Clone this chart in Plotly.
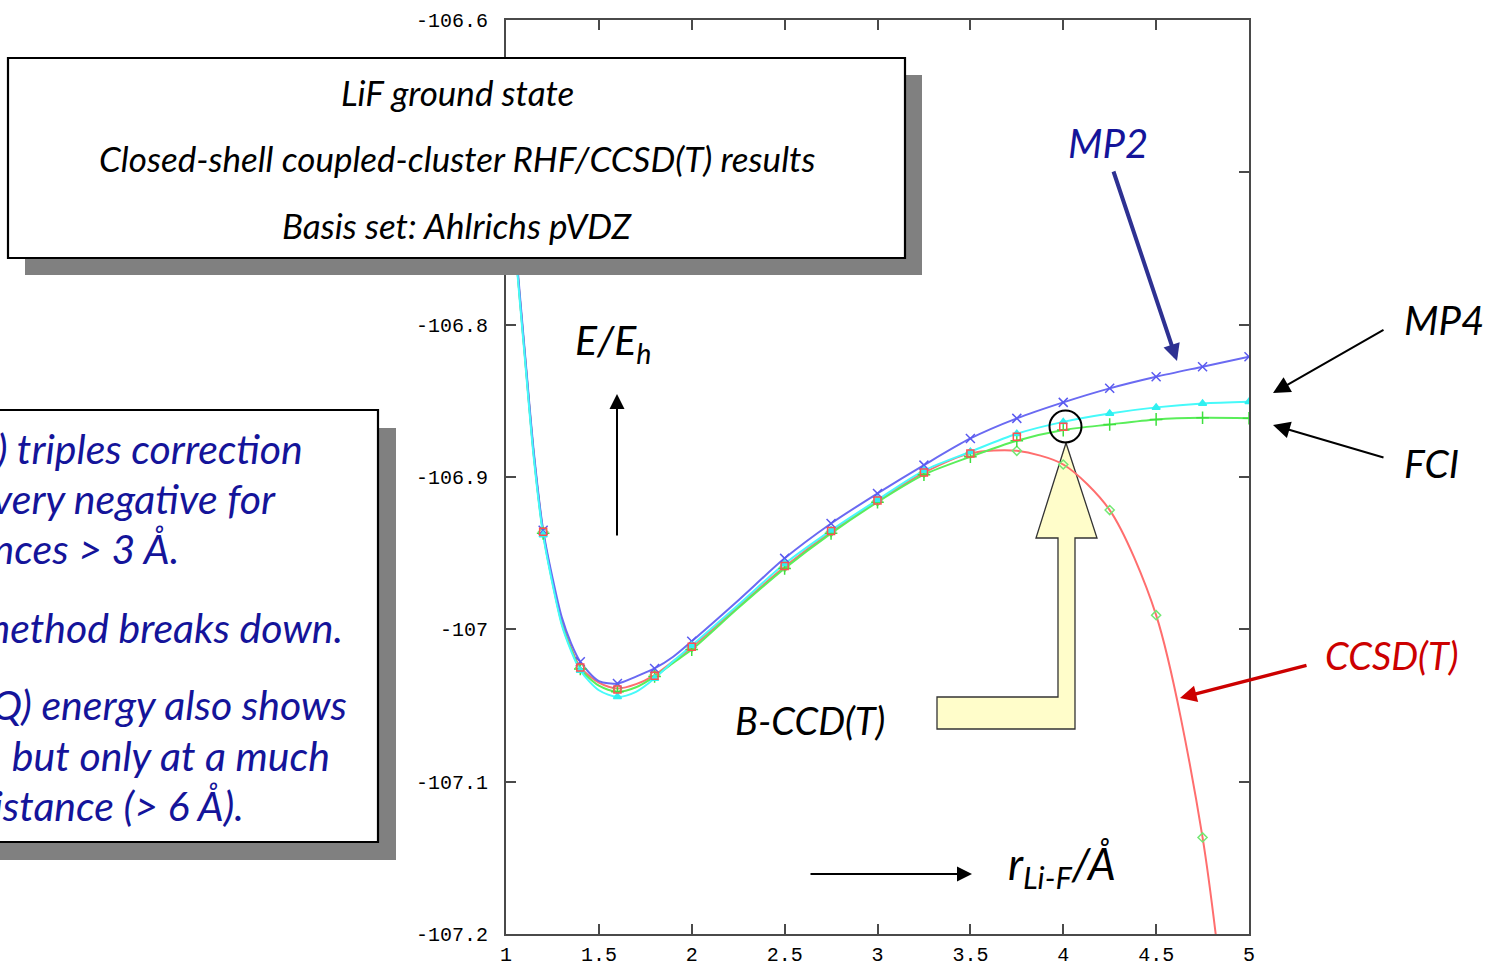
import plotly.graph_objects as go

# ---------------- data ----------------
R = [1.0, 1.05, 1.1, 1.15, 1.2, 1.25, 1.3, 1.35, 1.4, 1.5, 1.6, 1.7, 1.8, 1.9,
     2.0, 2.25, 2.5, 2.75, 3.0, 3.25, 3.5, 3.75, 4.0, 4.25, 4.5, 4.75, 5.0]
R_MARK = [1.2, 1.4, 1.6, 1.8, 2.0, 2.5, 2.75, 3.0, 3.25, 3.5, 3.75, 4.0, 4.25, 4.5, 4.75, 5.0]

MP2 = [-106.665, -106.745, -106.816, -106.884, -106.9349, -106.966, -106.992, -107.009,
       -107.0213, -107.034, -107.0355, -107.031, -107.0257, -107.018, -107.0078, -106.981,
       -106.9534, -106.9305, -106.9108, -106.8922, -106.8747, -106.8615, -106.851,
       -106.8418, -106.8342, -106.8276, -106.8211]
MP4 = [-106.670, -106.750, -106.820, -106.888, -106.938, -106.970, -106.997, -107.014,
       -107.027, -107.040, -107.0443, -107.041, -107.0322, -107.021, -107.0106, -106.984,
       -106.957, -106.935, -106.915, -106.8958, -106.8834, -106.8716, -106.8638,
       -106.8583, -106.8543, -106.8517, -106.8506]
FCI = [-106.668, -106.748, -106.818, -106.886, -106.937, -106.969, -106.996, -107.013,
       -107.026, -107.037, -107.041, -107.038, -107.031, -107.022, -107.0133, -106.986,
       -106.960, -106.937, -106.9165, -106.8985, -106.8867, -106.8762, -106.8692,
       -106.8655, -106.8622, -106.8611, -106.8614]
CCSDT = [-106.668, -106.748, -106.818, -106.886, -106.936, -106.968, -106.995, -107.012,
         -107.025, -107.035, -107.0388, -107.036, -107.030, -107.021, -107.0117, -106.985,
         -106.959, -106.936, -106.9158, -106.8972, -106.8845, -106.8828, -106.8918,
         -106.9217, -106.9907, -107.1366, -107.40]
R_BCCD = [1.2, 1.4, 1.6, 1.8, 2.0, 2.5, 2.75, 3.0, 3.25, 3.5, 3.75, 4.0]
BCCDT = [-106.936, -107.025, -107.0395, -107.0305, -107.0115, -106.9585, -106.9355,
         -106.9155, -106.897, -106.8845, -106.8736, -106.867]

X_TICKS = [1, 1.5, 2, 2.5, 3, 3.5, 4, 4.5, 5]
X_TICKTEXT = ["1", "1.5", "2", "2.5", "3", "3.5", "4", "4.5", "5"]
Y_TICKS = [-106.6, -106.7, -106.8, -106.9, -107.0, -107.1, -107.2]
Y_TICKTEXT = ["-106.6", "-106.7", "-106.8", "-106.9", "-107", "-107.1", "-107.2"]

# ---------------- layout geometry (pixels) ----------------
W, H = 1486, 966
L, RGT, T, B = 506, 1249, 20, 934


def PX(x):
    return (x - L) / (RGT - L)


def PY(y):
    return (B - y) / (B - T)


def at_marks(vals):
    d = dict(zip(R, vals))
    return [d[r] for r in R_MARK]


fig = go.Figure()

series = [
    ("CCSD(T)", CCSDT, "#ff6e6e", "#74e874", "diamond-open", 7),
    ("FCI", FCI, "#5aee5a", "#3ee03e", "cross-thin-open", 9),
    ("MP2", MP2, "#6a6af2", "#5a5af0", "x-thin-open", 9),
    ("MP4", MP4, "#46fafa", "#30f0f0", "triangle-up", 7),
]
for name, vals, lc, mc, sym, ms in series:
    fig.add_trace(go.Scatter(x=R, y=vals, mode="lines", name=name,
                             line=dict(color=lc, width=2, shape="spline", smoothing=0.8),
                             showlegend=False, hoverinfo="skip"))
for name, vals, lc, mc, sym, ms in series:
    fig.add_trace(go.Scatter(x=R_MARK, y=at_marks(vals), mode="markers", name=name,
                             marker=dict(symbol=sym, size=ms, color=mc,
                                         line=dict(color=mc, width=1.5)),
                             showlegend=False, cliponaxis=True))
fig.add_trace(go.Scatter(x=R_BCCD, y=BCCDT, mode="markers", name="B-CCD(T)",
                         marker=dict(symbol="square-open", size=7, color="#ff5050",
                                     line=dict(color="#ff5050", width=1.5)),
                         showlegend=False))

axis_common = dict(showgrid=False, zeroline=False, showline=True, linecolor="#4a4a4a",
                   linewidth=2, mirror="ticks", ticks="inside", ticklen=10,
                   tickwidth=2, tickcolor="#4a4a4a", automargin=False,
                   tickfont=dict(family="Liberation Mono", size=20, color="#000"))
fig.update_xaxes(range=[1, 5], tickvals=X_TICKS, ticktext=X_TICKTEXT,
                 ticklabelstandoff=1, **axis_common)
fig.update_yaxes(range=[-107.2, -106.6], tickvals=Y_TICKS, ticktext=Y_TICKTEXT,
                 ticklabelstandoff=12, **axis_common)

shapes = []
# yellow block arrow (below traces)
pts = [(937, 697), (1058, 697), (1058, 538), (1036, 538), (1066, 443), (1097, 538),
       (1075, 538), (1075, 729), (937, 729)]
path = "M " + " L ".join(f"{PX(x):.5f},{PY(y):.5f}" for x, y in pts) + " Z"
shapes.append(dict(type="path", path=path, xref="paper", yref="paper", layer="below",
                   fillcolor="#fffdca", line=dict(color="#333", width=1.3)))
# circle
shapes.append(dict(type="circle", xref="paper", yref="paper", layer="above",
                   x0=PX(1049.5), x1=PX(1081.5), y0=PY(442.5), y1=PY(410.5),
                   line=dict(color="black", width=2)))
# text boxes with shadows
for (x0, y0, x1, y1), off in [((8, 58, 905, 258), 17), ((-30, 410, 378, 842), 18)]:
    shapes.append(dict(type="rect", xref="paper", yref="paper", layer="above",
                       x0=PX(x0 + off), x1=PX(x1 + off), y0=PY(y1 + off), y1=PY(y0 + off),
                       fillcolor="#808080", line=dict(width=0)))
    shapes.append(dict(type="rect", xref="paper", yref="paper", layer="above",
                       x0=PX(x0), x1=PX(x1), y0=PY(y1), y1=PY(y0),
                       fillcolor="white", line=dict(color="black", width=2.2)))

FONT = "Lato, Open Sans, sans-serif"
ann = []


def text(s, x, y, size, color="black", xanchor="center"):
    ann.append(dict(text=s, x=PX(x), y=PY(y), xref="paper", yref="paper",
                    xanchor=xanchor, yanchor="middle", showarrow=False,
                    font=dict(family=FONT, size=size, color=color, style="italic")))


def arrow(tip, tail, color="black", width=2, size=1.5):
    ann.append(dict(text="", x=PX(tip[0]), y=PY(tip[1]), xref="paper", yref="paper",
                    ax=tail[0] - tip[0], ay=tail[1] - tip[1], showarrow=True,
                    arrowhead=2, arrowsize=size, arrowwidth=width, arrowcolor=color,
                    standoff=0))


text("LiF ground state", 457, 92, 35)
text("Closed-shell coupled-cluster RHF/CCSD(T) results", 457, 158, 35)
text("Basis set: Ahlrichs pVDZ", 457, 225, 35)

BLUE_TXT = "#14149a"
left_lines = [
    ("The (T) triples correction", 305, 448),
    ("becomes very negative for", 278, 498),
    ("distances > 3 Å.", 181, 549),
    ("The method breaks down.", 345, 627),
    ("The CCSD(TQ) energy also shows", 349, 704),
    ("this, but only at a much", 332, 755),
    ("larger distance (> 6 Å).", 246, 805),
]
for s, xr, y in left_lines:
    text(s, xr, y, 41, BLUE_TXT, xanchor="right")

text("MP2", 1108, 143, 40, BLUE_TXT)
text("MP4", 1444, 320, 40)
text("FCI", 1431, 463, 39)
text("CCSD(T)", 1392, 655, 38, "#cc0000")
text("B-CCD(T)", 810, 720, 38)
text("E/E<sub>h</sub>", 613, 342, 41)
text("r<sub>Li-F</sub>/Å", 1062, 866, 44)

arrow((617, 394), (617, 537), size=1.5)
arrow((972, 874), (809, 874), size=1.5)
arrow((1177, 361), (1113, 170), color="#2e3192", width=4, size=0.85)
arrow((1273, 393), (1385, 329), size=1.7)
arrow((1273, 425), (1385, 458), size=1.7)
arrow((1180, 698), (1308, 665), color="#cc0000", width=3.5, size=0.95)

fig.update_layout(width=W, height=H, margin=dict(l=L, r=W - RGT, t=T, b=H - B, pad=0),
                  paper_bgcolor="white", plot_bgcolor="white", showlegend=False,
                  shapes=shapes, annotations=ann)

fig.write_html("out.html", config={"displayModeBar": False},
               post_script="document.body.style.margin='0';document.body.style.overflow='hidden';")
